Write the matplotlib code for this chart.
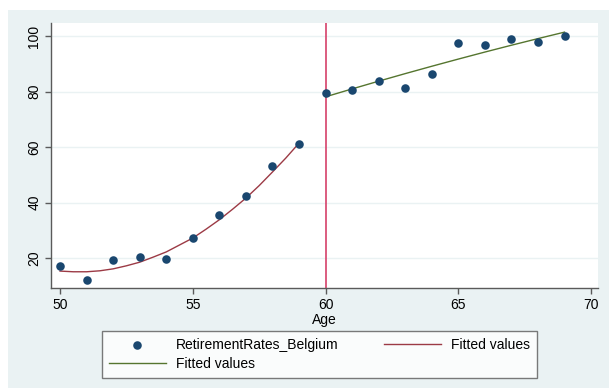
import numpy as np
import matplotlib
matplotlib.use('Agg')
import matplotlib.pyplot as plt
from matplotlib.patches import Rectangle

# observed retirement rates by age
ages = [50, 51, 52, 53, 54, 55, 56, 57, 58, 59, 60, 61, 62, 63, 64, 65, 66, 67, 68, 69]
rates = [17.1, 12.2, 19.2, 20.4, 19.5, 27.1, 35.5, 42.3, 53.3, 61.2,
         79.5, 80.5, 83.7, 81.3, 86.4, 97.4, 96.9, 99.0, 97.7, 100.1]

# fitted values (before / after 60)
fit_ages_lo = [50, 50.5, 51, 51.5, 52, 52.5, 53, 53.5, 54, 54.5, 55,
               55.5, 56, 56.5, 57, 57.5, 58, 58.5, 59]
fit_lo = [15.3, 15.05, 15.05, 15.4, 16.1, 17.2, 18.5, 20.3, 22.2, 24.7, 27.2,
          30.4, 33.8, 37.6, 41.6, 46.1, 51.0, 56.0, 61.4]
fit_ages_hi = [60, 61, 62, 63, 64, 65, 66, 67, 68, 69]
fit_hi = [78.1, 80.95, 83.74, 86.46, 89.11, 91.70, 94.23, 96.69, 99.08, 101.41]

cutoff = 60
xticks = [50, 55, 60, 65, 70]
yticks = [20, 40, 60, 80, 100]

BG = '#eaf2f3'
NAVY = '#1a476f'
MAROON = '#9c3a45'
GREEN = '#55752f'
XLINE = '#d6416a'
SPINE = '#5a5a5a'

plt.rcParams.update({
    'font.family': ['Liberation Sans', 'DejaVu Sans'],
    'font.size': 10,
})

W, H = 609, 388
fig = plt.figure(figsize=(W / 100, H / 100), dpi=100, facecolor='white')
fig.patches.append(Rectangle((8 / W, 0), 1 - 8 / W, 1 - 10 / H, transform=fig.transFigure,
                             facecolor=BG, edgecolor='none', zorder=-10))

ax = fig.add_axes([51 / W, 1 - 288 / H, 547 / W, 265 / H])
ax.set_facecolor('white')

for y in yticks:
    ax.axhline(y, color=BG, lw=1.0, zorder=0)

pts = ax.scatter(ages, rates, s=38, color=NAVY, zorder=4, linewidths=0,
                 label='RetirementRates_Belgium')
l_lo, = ax.plot(fit_ages_lo, fit_lo, color=MAROON, lw=1.0, zorder=3, label='Fitted values')
l_hi, = ax.plot(fit_ages_hi, fit_hi, color=GREEN, lw=1.0, zorder=3, label='Fitted values')
ax.axvline(cutoff, color=XLINE, lw=1.2, zorder=2)

ax.set_xlim(49.66, 70.26)
ax.set_ylim(9.2, 104.7)
ax.set_xticks(xticks)
ax.set_yticks(yticks)
ax.set_yticklabels([str(v) for v in yticks], rotation=90, va='center')
ax.tick_params(axis='both', length=4, width=1.0, color=SPINE, labelsize=10, pad=3)
ax.tick_params(axis='y', pad=3)
ax.set_xlabel('Age', fontsize=10, labelpad=1)

for s in ['top', 'right']:
    ax.spines[s].set_visible(False)
for s in ['left', 'bottom']:
    ax.spines[s].set_color(SPINE)
    ax.spines[s].set_linewidth(1.0)

leg = fig.legend([pts, l_hi, l_lo],
                 ['RetirementRates_Belgium', 'Fitted values', 'Fitted values'],
                 ncol=2, loc='upper left', bbox_to_anchor=(102 / W, 1 - 331 / H),
                 frameon=True, fancybox=False, handlelength=4.1, handletextpad=0.7,
                 columnspacing=3.3, labelspacing=0.38, borderpad=0.5, borderaxespad=0,
                 scatterpoints=1, fontsize=10)
leg.get_frame().set_edgecolor(SPINE)
leg.get_frame().set_linewidth(1.0)
leg.get_frame().set_facecolor('white')

fig.savefig('out.png', dpi=100, facecolor='white')
